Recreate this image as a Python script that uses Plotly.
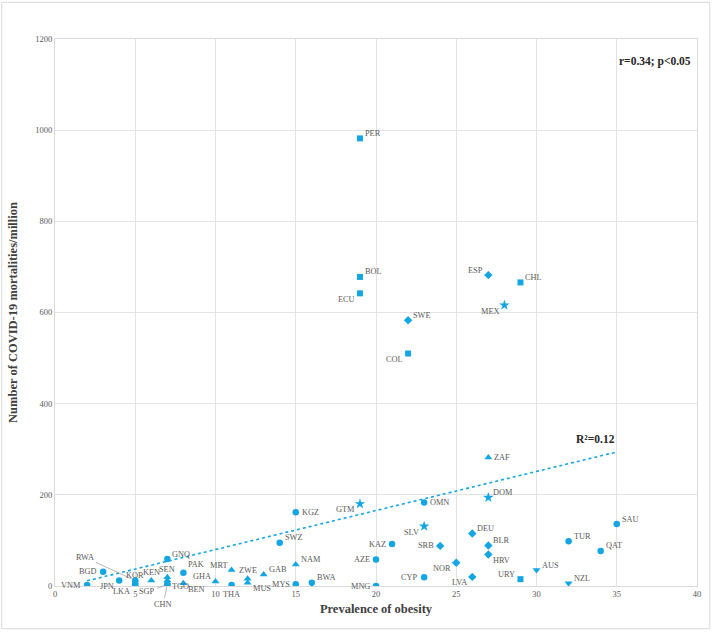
import numpy as np
import plotly.graph_objects as go

# country code, prevalence of obesity (%), COVID-19 deaths per million, region group
codes = ["VNM", "BGD", "JPN", "RWA", "KOR", "LKA", "KEN", "SEN", "TGO", "CHN", "SGP",
         "GNQ", "PAK", "BEN", "GHA", "MRT", "THA", "ZWE", "MUS", "GAB", "SWZ", "KGZ",
         "NAM", "MYS", "BWA", "GTM", "PER", "BOL", "ECU", "AZE", "MNG", "KAZ", "SWE",
         "COL", "OMN", "SLV", "CYP", "SRB", "NOR", "DEU", "LVA", "ZAF", "DOM", "BLR",
         "HRV", "ESP", "MEX", "CHL", "URY", "AUS", "TUR", "NZL", "QAT", "SAU"]
obesity = [2, 3, 4, 5, 5, 5, 6, 7, 7, 7, 7,
           7, 8, 8, 10, 11, 11, 12, 12, 13, 14, 15,
           15, 15, 16, 19, 19, 19, 19, 20, 20, 21, 22,
           22, 23, 23, 23, 24, 25, 26, 26, 27, 27, 27,
           27, 27, 28, 29, 29, 30, 32, 32, 34, 35]
deaths = [2, 31, 12, 12, 6, 1, 12, 19, 12, 4, 3,
          59, 29, 6, 10, 35, 2, 16, 7, 25, 95, 162,
          47, 4, 7, 180, 982, 678, 642, 58, 0, 92, 583,
          510, 183, 131, 19, 88, 51, 115, 20, 282, 194, 89,
          69, 682, 616, 666, 15, 35, 98, 6, 77, 136]
region = ["asia", "asia", "asia", "asia", "asia", "asia", "africa", "africa", "africa", "asia", "asia",
          "asia", "asia", "africa", "africa", "africa", "asia", "africa", "africa", "africa", "asia", "asia",
          "africa", "asia", "asia", "america", "south", "south", "south", "asia", "asia", "asia", "europe",
          "south", "asia", "america", "asia", "europe", "europe", "europe", "europe", "africa", "america", "europe",
          "europe", "europe", "america", "south", "south", "oceania", "asia", "oceania", "asia", "asia"]

x_ticks = [0, 5, 10, 15, 20, 25, 30, 35, 40]
y_ticks = [0, 200, 400, 600, 800, 1000, 1200]

symbols = {"asia": "circle", "africa": "triangle-up", "south": "square",
           "europe": "diamond", "america": "star", "oceania": "triangle-down"}
sizes = {"asia": 6.5, "africa": 7, "south": 6, "europe": 6.5, "america": 8, "oceania": 7}

# label placement around each marker
label_side = {
    "VNM": "l", "BGD": "l", "JPN": "bl", "KOR": "t", "LKA": "bl", "KEN": "t", "SEN": "t",
    "TGO": "br", "GNQ": "tr", "PAK": "tr2", "BEN": "br", "GHA": "tl", "MRT": "tl", "THA": "b",
    "ZWE": "t", "MUS": "br", "GAB": "tr", "SWZ": "tr", "KGZ": "r", "NAM": "tr", "MYS": "l",
    "BWA": "tr", "GTM": "bl", "PER": "tr", "BOL": "tr", "ECU": "bl", "AZE": "l", "MNG": "l",
    "KAZ": "l", "SWE": "tr", "COL": "bl", "OMN": "r", "SLV": "bl", "CYP": "l", "SRB": "l",
    "NOR": "bl", "DEU": "tr", "LVA": "bl", "ZAF": "r", "DOM": "tr", "BLR": "tr", "HRV": "br",
    "ESP": "tl", "MEX": "bl", "CHL": "tr", "URY": "tl", "AUS": "tr", "TUR": "tr", "NZL": "tr",
    "QAT": "tr", "SAU": "tr",
}
leader = {"RWA": (-50, -23), "CHN": (-4, 20), "SGP": (-20, 7)}

color = "#14A6E2"
serif = "Liberation Serif"
label_font = dict(family=serif, size=8.3, color="#595959")

fig = go.Figure()

# linear trend line over the data range
slope, intercept = np.polyfit(obesity, deaths, 1)
xs = np.array([min(obesity), max(obesity)])
fig.add_trace(go.Scatter(x=xs, y=slope * xs + intercept, mode="lines",
                         line=dict(color=color, width=1.6, dash="dot"),
                         hoverinfo="skip", showlegend=False))

for grp, sym in symbols.items():
    idx = [i for i, r in enumerate(region) if r == grp]
    fig.add_trace(go.Scatter(
        x=[obesity[i] for i in idx], y=[deaths[i] for i in idx],
        mode="markers", name=grp, showlegend=False,
        text=[codes[i] for i in idx],
        marker=dict(symbol=sym, size=sizes[grp], color=color, line=dict(width=0)),
    ))

placements = {
    "r": ("left", 4, 0), "l": ("right", -4, 0),
    "tr": ("left", 3, 5), "tr2": ("left", 3, 8), "br": ("left", 3, -6),
    "tl": ("right", -3, 5), "bl": ("right", -3, -6),
    "t": ("center", 0, 8), "b": ("center", 0, -9),
}

annotations = []
for c, xv, yv in zip(codes, obesity, deaths):
    if c in leader:
        ax, ay = leader[c]
        annotations.append(dict(x=xv, y=yv, text=c, showarrow=True, arrowhead=0,
                                arrowwidth=0.8, arrowcolor="#a6a6a6", ax=ax, ay=ay,
                                standoff=3, font=label_font))
        continue
    xa, xs_, ys_ = placements[label_side[c]]
    annotations.append(dict(x=xv, y=yv, text=c, showarrow=False, xanchor=xa,
                            yanchor="middle", xshift=xs_, yshift=ys_, font=label_font))

annotations.append(dict(x=35, y=293, text="<b>R²=0.12</b>", showarrow=False,
                        xanchor="right", yanchor="bottom", yshift=5,
                        font=dict(family=serif, size=11.5, color="#262626")))
annotations.append(dict(x=0.993, y=0.975, xref="paper", yref="paper",
                        text="<b>r=0.34; p<0.05</b>", showarrow=False,
                        xanchor="right", yanchor="top",
                        font=dict(family=serif, size=11.5, color="#262626")))

tick_font = dict(family=serif, size=8.5, color="#595959")
title_font = dict(family=serif, size=12.5, color="#404040")

fig.update_layout(
    width=715, height=632,
    margin=dict(l=55, r=18, t=39, b=46),
    paper_bgcolor="white", plot_bgcolor="white",
    annotations=annotations,
    shapes=[dict(type="rect", xref="paper", yref="paper",
                 x0=-0.083, x1=1.02, y0=-0.078, y1=1.067,
                 line=dict(color="#d9d9d9", width=1))],
    xaxis=dict(range=[0, 40], tickvals=x_ticks, showgrid=True, gridcolor="#e3e3e3",
               zeroline=False, showline=True, linecolor="#d9d9d9", mirror=True,
               ticks="", tickfont=tick_font,
               title=dict(text="<b>Prevalence of obesity</b>", standoff=6, font=title_font)),
    yaxis=dict(range=[0, 1200], tickvals=y_ticks, showgrid=True, gridcolor="#e3e3e3",
               zeroline=False, showline=True, linecolor="#d9d9d9", mirror=True,
               ticks="", tickfont=tick_font,
               title=dict(text="<b>Number of COVID-19 mortalities/million</b>", standoff=14,
                          font=title_font)),
)

fig.write_html("out.html", config={"displayModeBar": False},
               post_script="document.body.style.margin='0';")
